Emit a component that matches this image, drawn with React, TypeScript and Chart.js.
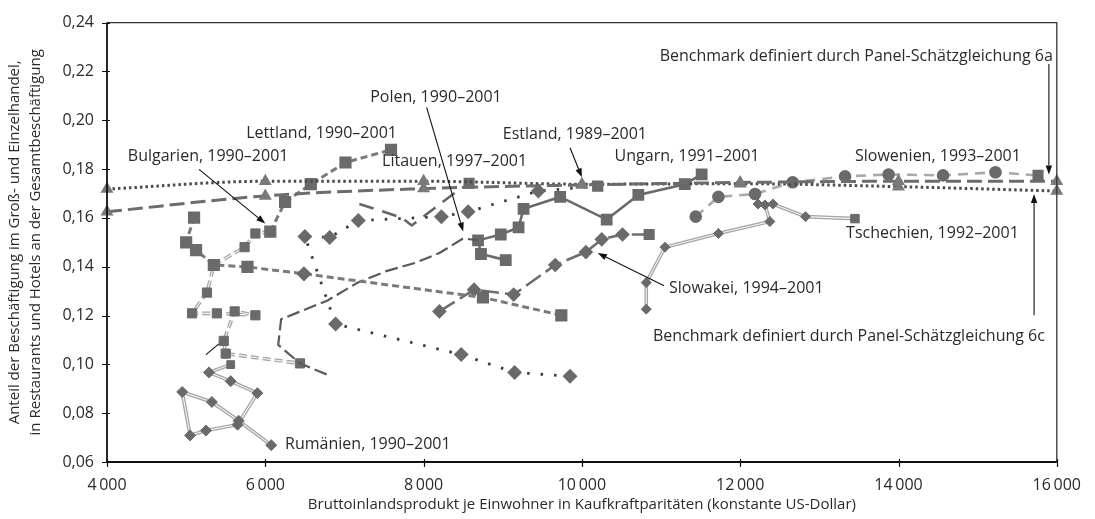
import React, { useEffect, useRef } from "react";
import { Chart, registerables } from "chart.js";

Chart.register(...registerables);

// ---------- axis ticks ----------
const xTickValues = [4000, 6000, 8000, 10000, 12000, 14000, 16000];
const yTickValues = [0.06, 0.08, 0.1, 0.12, 0.14, 0.16, 0.18, 0.2, 0.22, 0.24];

// ---------- benchmarks ----------
const benchX = [4000, 6000, 8000, 10000, 12000, 14000, 16000];
const bench6a = [0.1625, 0.169, 0.172, 0.1735, 0.1745, 0.175, 0.175];
const bench6c = [0.1718, 0.175, 0.175, 0.1738, 0.174, 0.1728, 0.171];

// ---------- countries ----------
const lettlandAX = [9740, 8750, 6488, 5775, 5350, 5125, 5000, 5100];
const lettlandAY = [0.1201, 0.1274, 0.1371, 0.1399, 0.1407, 0.1468, 0.15, 0.1601];
const lettlandBX = [6063, 6250, 6575, 7013, 7588];
const lettlandBY = [0.1544, 0.1665, 0.1738, 0.1827, 0.1879];

const bulgarienX = [6063, 5875, 5738, 5350, 5263, 5075, 5388, 5875, 5613, 5475, 5500, 6438];
const bulgarienY = [0.1544, 0.1536, 0.148, 0.1407, 0.1294, 0.1209, 0.1209, 0.1201, 0.1217, 0.1096, 0.1044, 0.1004];

const rumaenienX = [5563, 5288, 5563, 5900, 5650, 5250, 5050, 4950, 5325, 5663, 6075];
const rumaenienY = [0.0999, 0.0967, 0.0931, 0.0882, 0.0753, 0.0729, 0.0709, 0.0887, 0.0846, 0.0769, 0.0669];

const polenX = [6775, 6438, 6163, 6200, 6413, 6788, 7163, 7538, 7888, 8200, 8500, 8688];
const polenY = [0.0959, 0.1004, 0.108, 0.1185, 0.1213, 0.1262, 0.1334, 0.1383, 0.1415, 0.1456, 0.1516, 0.1508];

const ungarnX = [9038, 8725, 8688, 8975, 9200, 9263, 9725, 10313, 10713, 11300, 11513];
const ungarnY = [0.1427, 0.1452, 0.1508, 0.1532, 0.1561, 0.1637, 0.1686, 0.1593, 0.1694, 0.1738, 0.1778];

const estlandX = [9850, 9150, 8475, 6888, 6500, 6813, 7175, 8225, 8563, 9450, 10200];
const estlandY = [0.0951, 0.0967, 0.104, 0.1165, 0.1524, 0.152, 0.1589, 0.1605, 0.1625, 0.171, 0.173];

const litauenX = [7188, 7725, 7850, 8375, 8575];
const litauenY = [0.1657, 0.1601, 0.1569, 0.1698, 0.1742];

const slowakeiX = [8200, 8638, 9138, 9663, 10050, 10250, 10513, 10850];
const slowakeiY = [0.1217, 0.1306, 0.1286, 0.1407, 0.146, 0.1512, 0.1532, 0.1532];

const tschechienX = [10813, 10813, 11050, 11725, 12375, 12313, 12225, 12413, 12825, 13450];
const tschechienY = [0.1226, 0.1335, 0.148, 0.1536, 0.1585, 0.1653, 0.1657, 0.1657, 0.1605, 0.1597];

const slowenienX = [11438, 11725, 12188, 12663, 13325, 13875, 14563, 15225, 15763];
const slowenienY = [0.1605, 0.1686, 0.1698, 0.1746, 0.177, 0.1778, 0.1774, 0.1787, 0.1774];

// ---------- annotation texts (data coordinates) ----------
const labelTexts = [
  "Polen, 1990–2001",
  "Lettland, 1990–2001",
  "Estland, 1989–2001",
  "Bulgarien, 1990–2001",
  "Ungarn, 1991–2001",
  "Slowenien, 1993–2001",
  "Litauen, 1997–2001",
  "Tschechien, 1992–2001",
  "Slowakei, 1994–2001",
  "Benchmark definiert durch Panel-Schätzgleichung 6c",
  "Benchmark definiert durch Panel-Schätzgleichung 6a",
  "Rumänien, 1990–2001",
];
const labelX = [7325, 7663, 9000, 4263, 10413, 13450, 7475, 13338, 11100, 15850, 15950, 6250];
const labelY = [0.2093, 0.1948, 0.194, 0.1851, 0.1851, 0.1851, 0.1831, 0.1536, 0.131, 0.1113, 0.2263, 0.0673];
const labelAlign = ["left", "right", "left", "left", "left", "left", "left", "left", "left", "right", "right", "left"];

// arrows: from -> to, head at "to"
const arrowFromX = [5163, 8038, 9850, 11038, 15900, 15713, 5250];
const arrowFromY = [0.1799, 0.2053, 0.1887, 0.1322, 0.223, 0.1201, 0.104];
const arrowToX = [6000, 8500, 10000, 10200, 15900, 15713, 5413];
const arrowToY = [0.1577, 0.1544, 0.1766, 0.1456, 0.1778, 0.1698, 0.1084];
const arrowHead = [true, true, true, true, true, true, false];

const X_TITLE = "Bruttoinlandsprodukt je Einwohner in Kaufkraftparitäten (konstante US-Dollar)";
const Y_TITLE_1 = "Anteil der Beschäftigung im Groß- und Einzelhandel,";
const Y_TITLE_2 = "in Restaurants und Hotels an der Gesamtbeschäftigung";

const FONT = '"Open Sans", "Noto Sans", sans-serif';
const MARK = "#6a6a6a";

const pts = (xs: number[], ys: number[]) => xs.map((x, i) => ({ x, y: ys[i] }));

function fmtX(v: number) {
  const s = String(v);
  return s.length > 3 ? s.slice(0, s.length - 3) + "\u2009" + s.slice(-3) : s;
}

function styles(n: number, base: string, last?: string) {
  const a: string[] = [];
  for (let i = 0; i < n; i++) a.push(base);
  if (last) a[n - 1] = last;
  return a;
}
function radii(n: number, base: number, lastR?: number) {
  const a: number[] = [];
  for (let i = 0; i < n; i++) a.push(base);
  if (lastR !== undefined) a[n - 1] = lastR;
  return a;
}

function hollow(label: string, xs: number[], ys: number[], dash: number[], pStyle: any, pRadius: any): any[] {
  const data = pts(xs, ys);
  return [
    { label, data, borderColor: "#a4a4a4", borderWidth: 3.6, borderDash: dash, pointRadius: 0, order: 3, clip: false },
    { label, data, borderColor: "#f4f4f4", borderWidth: 1.1, borderDash: dash, pointRadius: 0, order: 2, clip: false },
    { label, data, showLine: false, pointStyle: pStyle, pointRadius: pRadius, pointBackgroundColor: MARK, pointBorderColor: MARK, pointBorderWidth: 1, order: 1, clip: false },
  ];
}

const overlay = {
  id: "overlay",
  afterDraw(chart: any) {
    const ctx = chart.ctx as CanvasRenderingContext2D;
    const xs = chart.scales.x;
    const ys = chart.scales.y;
    const { left, right, top, bottom } = chart.chartArea;
    ctx.save();
    // frame
    ctx.strokeStyle = "#333";
    ctx.lineWidth = 1.3;
    ctx.beginPath();
    ctx.moveTo(left, top);
    ctx.lineTo(right, top);
    ctx.lineTo(right, bottom);
    ctx.stroke();
    ctx.strokeStyle = "#111";
    ctx.lineWidth = 1.8;
    ctx.beginPath();
    ctx.moveTo(left, top);
    ctx.lineTo(left, bottom);
    ctx.lineTo(right, bottom);
    ctx.stroke();
    // ticks
    ctx.lineWidth = 1.2;
    ctx.beginPath();
    yTickValues.forEach((v) => {
      const p = Math.round(ys.getPixelForValue(v)) + 0.5;
      ctx.moveTo(left - 5, p);
      ctx.lineTo(left + 3, p);
    });
    xTickValues.forEach((v) => {
      const p = Math.round(xs.getPixelForValue(v)) + 0.5;
      ctx.moveTo(p, bottom - 3);
      ctx.lineTo(p, bottom + 5);
    });
    ctx.stroke();

    // arrows
    ctx.strokeStyle = "#111";
    ctx.fillStyle = "#111";
    ctx.lineWidth = 1.1;
    arrowFromX.forEach((fx, i) => {
      const x1 = xs.getPixelForValue(fx);
      const y1 = ys.getPixelForValue(arrowFromY[i]);
      const x2 = xs.getPixelForValue(arrowToX[i]);
      const y2 = ys.getPixelForValue(arrowToY[i]);
      const ang = Math.atan2(y2 - y1, x2 - x1);
      const hl = 9;
      const hw = 3.2;
      const bx = arrowHead[i] ? x2 - Math.cos(ang) * hl : x2;
      const by = arrowHead[i] ? y2 - Math.sin(ang) * hl : y2;
      ctx.beginPath();
      ctx.moveTo(x1, y1);
      ctx.lineTo(bx, by);
      ctx.stroke();
      if (arrowHead[i]) {
        ctx.beginPath();
        ctx.moveTo(x2, y2);
        ctx.lineTo(bx - Math.sin(ang) * hw, by + Math.cos(ang) * hw);
        ctx.lineTo(bx + Math.sin(ang) * hw, by - Math.cos(ang) * hw);
        ctx.closePath();
        ctx.fill();
      }
    });

    // labels
    ctx.fillStyle = "#2a2a2a";
    ctx.font = `16px ${FONT}`;
    ctx.textBaseline = "middle";
    labelTexts.forEach((t, i) => {
      ctx.textAlign = labelAlign[i] as CanvasTextAlign;
      ctx.fillText(t, xs.getPixelForValue(labelX[i]), ys.getPixelForValue(labelY[i]));
    });

    // axis titles
    ctx.font = `15px ${FONT}`;
    ctx.textAlign = "center";
    ctx.fillText(X_TITLE, (left + right) / 2, bottom + 43);
    ctx.translate(0, (top + bottom) / 2);
    ctx.rotate(-Math.PI / 2);
    ctx.fillText(Y_TITLE_1, 0, 15);
    ctx.fillText(Y_TITLE_2, 0, 36);
    ctx.restore();
  },
};

export default function App() {
  const ref = useRef<HTMLCanvasElement>(null);
  useEffect(() => {
    const canvas = ref.current;
    if (!canvas) return;
    const triStyle = "triangle";
    const datasets: any[] = [
      {
        label: "Benchmark 6a",
        data: pts(benchX, bench6a),
        borderColor: "#6c6c6c",
        borderWidth: 3,
        borderDash: [15, 6],
        cubicInterpolationMode: "monotone",
        pointStyle: triStyle,
        pointRadius: 4.5,
        pointBackgroundColor: "#7a7a7a",
        pointBorderColor: "#7a7a7a",
        order: 0,
        clip: false,
      },
      {
        label: "Benchmark 6c",
        data: pts(benchX, bench6c),
        borderColor: "#4a4a4a",
        borderWidth: 3,
        borderDash: [2.5, 3],
        cubicInterpolationMode: "monotone",
        pointStyle: triStyle,
        pointRadius: 4.5,
        pointBackgroundColor: "#7a7a7a",
        pointBorderColor: "#7a7a7a",
        order: 0,
        clip: false,
      },
      {
        label: "Lettland",
        data: pts(lettlandAX, lettlandAY),
        borderColor: "#7a7a7a",
        borderWidth: 3,
        borderDash: [7, 4],
        pointStyle: ["rect", "rect", "rectRot", "rect", "rect", "rect", "rect", "rect"],
        pointRadius: [6.5, 6.5, 5.5, 6.5, 6.5, 6.5, 6.5, 6.5],
        pointBackgroundColor: MARK,
        pointBorderColor: MARK,
        order: 0,
        clip: false,
      },
      {
        label: "Lettland",
        data: pts(lettlandBX, lettlandBY),
        borderColor: "#7a7a7a",
        borderWidth: 3,
        borderDash: [7, 4],
        pointStyle: "rect",
        pointRadius: 6.5,
        pointBackgroundColor: MARK,
        pointBorderColor: MARK,
        order: 0,
        clip: false,
      },
      ...hollow("Bulgarien", bulgarienX, bulgarienY, [8, 4], "rect", 6.5),
      ...hollow("Rumänien", rumaenienX, rumaenienY, [], styles(rumaenienX.length, "rectRot", undefined).map((s, i) => (i === 0 ? "rect" : s)), 5.5),
      ...hollow("Tschechien", tschechienX, tschechienY, [], styles(tschechienX.length, "rectRot", "rect"), radii(tschechienX.length, 5, 6)),
      {
        label: "Polen",
        data: pts(polenX, polenY),
        borderColor: "#5a5a5a",
        borderWidth: 2.2,
        borderDash: [13, 5],
        pointRadius: 0,
        order: 0,
        clip: false,
      },
      {
        label: "Ungarn",
        data: pts(ungarnX, ungarnY),
        borderColor: "#6a6a6a",
        borderWidth: 2.6,
        pointStyle: "rect",
        pointRadius: 6.5,
        pointBackgroundColor: MARK,
        pointBorderColor: MARK,
        order: 0,
        clip: false,
      },
      {
        label: "Estland",
        data: pts(estlandX, estlandY),
        borderColor: "#3a3a3a",
        borderWidth: 2.8,
        borderDash: [2.5, 11],
        pointStyle: styles(estlandX.length, "rectRot", "rect"),
        pointRadius: radii(estlandX.length, 5.5, 6),
        pointBackgroundColor: MARK,
        pointBorderColor: MARK,
        order: 0,
        clip: false,
      },
      {
        label: "Litauen",
        data: pts(litauenX, litauenY),
        borderColor: "#666",
        borderWidth: 2.6,
        borderDash: [15, 9],
        pointStyle: "rect",
        pointRadius: radii(litauenX.length, 0, 6),
        pointBackgroundColor: MARK,
        pointBorderColor: MARK,
        order: 0,
        clip: false,
      },
      {
        label: "Slowakei",
        data: pts(slowakeiX, slowakeiY),
        borderColor: "#6e6e6e",
        borderWidth: 2.6,
        borderDash: [18, 6],
        pointStyle: styles(slowakeiX.length, "rectRot", "rect"),
        pointRadius: radii(slowakeiX.length, 5.5, 6),
        pointBackgroundColor: MARK,
        pointBorderColor: MARK,
        order: 0,
        clip: false,
      },
      {
        label: "Slowenien",
        data: pts(slowenienX, slowenienY),
        borderColor: "#a8a8a8",
        borderWidth: 2.6,
        borderDash: [10, 7],
        pointStyle: styles(slowenienX.length, "circle", "rect"),
        pointRadius: radii(slowenienX.length, 5, 6),
        pointBackgroundColor: MARK,
        pointBorderColor: MARK,
        order: 0,
        clip: false,
      },
    ];

    const chart = new Chart(canvas, {
      type: "line",
      data: { datasets },
      options: {
        responsive: false,
        animation: false,
        events: [],
        layout: { padding: { left: 0, right: 28, top: 16, bottom: 0 } },
        elements: { line: { tension: 0 } },
        plugins: { legend: { display: false }, tooltip: { enabled: false } },
        scales: {
          x: {
            type: "linear",
            min: 4000,
            max: 16000,
            grid: { display: false, drawTicks: false },
            border: { display: false },
            afterFit: (s: any) => {
              s.height = 57;
            },
            afterBuildTicks: (s: any) => {
              s.ticks = xTickValues.map((v) => ({ value: v }));
            },
            ticks: {
              padding: 14,
              color: "#2a2a2a",
              font: { family: FONT, size: 16 },
              maxRotation: 0,
              callback: (v: any) => fmtX(Number(v)),
            },
          },
          y: {
            type: "linear",
            min: 0.06,
            max: 0.24,
            grid: { display: false, drawTicks: false },
            border: { display: false },
            afterFit: (s: any) => {
              s.width = 107;
            },
            afterBuildTicks: (s: any) => {
              s.ticks = yTickValues.map((v) => ({ value: v }));
            },
            ticks: {
              padding: 13,
              color: "#2a2a2a",
              font: { family: FONT, size: 16 },
              callback: (v: any) => Number(v).toFixed(2).replace(".", ","),
            },
          },
        },
      },
      plugins: [overlay],
    });
    return () => chart.destroy();
  }, []);

  return (
    <div style={{ position: "absolute", left: 0, top: 0, width: 1095, height: 519, background: "#fff" }}>
      <canvas ref={ref} width={1095} height={519} style={{ display: "block" }} />
    </div>
  );
}
